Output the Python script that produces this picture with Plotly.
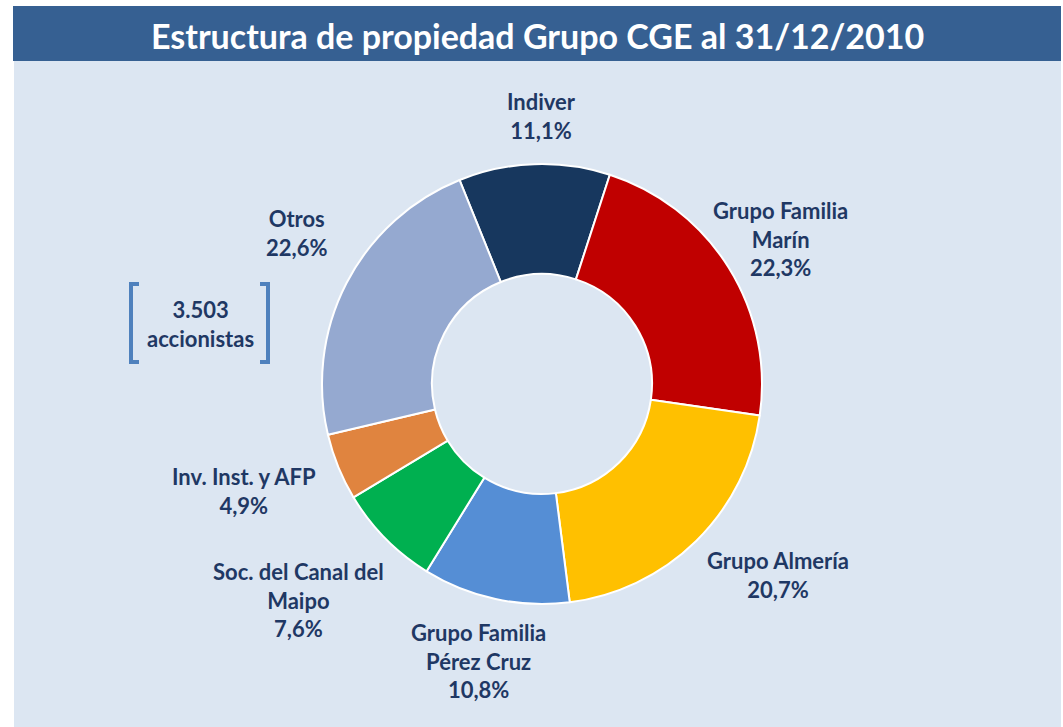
import math
import plotly.graph_objects as go

# ---- data ----
categories = ["Indiver", "Grupo Familia<br>Marín", "Grupo Almería",
              "Grupo Familia<br>Pérez Cruz", "Soc. del Canal del<br>Maipo",
              "Inv. Inst. y AFP", "Otros"]
shares = [11.1, 22.3, 20.7, 10.8, 7.6, 4.9, 22.6]
colors = ["#17375E", "#C00000", "#FFC000", "#558ED5", "#00B050", "#E0843F", "#95A9D0"]
title_text = "Estructura de propiedad Grupo CGE al 31/12/2010"
note_text = "3.503<br>accionistas"

# ---- layout helpers ----
W, H = 1063, 727
ROT = -22
CX, CY, R = 542, 384, 220
label_radius = [1.22, 1.27, 1.38, 1.29, 1.48, 1.44, 1.31]
label_angle_shift = [2, 0.7, -6.6, 0.7, 3.1, 2.4, 4.3]
TXT = "#1F3864"
FONT = "Lato"
LBL_SIZE = 22

def px(x):
    return x / W

def py(y):
    return 1 - y / H

fig = go.Figure()
fig.add_trace(go.Pie(
    labels=[c.replace("<br>", " ") for c in categories],
    values=shares,
    sort=False,
    direction="clockwise",
    rotation=ROT,
    hole=0.5,
    marker=dict(colors=colors, line=dict(color="white", width=2)),
    textinfo="none",
    hoverinfo="label+percent",
    showlegend=False,
    domain=dict(x=[px(CX - R), px(CX + R)], y=[py(CY + R), py(CY - R)]),
))

shapes = [
    dict(type="rect", xref="paper", yref="paper", x0=px(14), x1=px(1061), y0=py(727), y1=py(61),
         fillcolor="#DCE6F2", line=dict(width=0), layer="below"),
    dict(type="rect", xref="paper", yref="paper", x0=px(13), x1=px(1061), y0=py(61), y1=py(6),
         fillcolor="#366092", line=dict(width=0), layer="below"),
]
# bracket
bc = "#4F81BD"
for xv, xt in [(131, 139), (268, 260)]:
    shapes.append(dict(type="path", xref="paper", yref="paper",
                       path=f"M {px(xt)},{py(284)} L {px(xv)},{py(284)} L {px(xv)},{py(362)} L {px(xt)},{py(362)}",
                       line=dict(color=bc, width=4)))

annotations = [
    dict(text=f"<b>{title_text}</b>", x=px(537), y=py(35), xref="paper", yref="paper",
         showarrow=False, font=dict(family=FONT, size=34, color="white"),
         xanchor="center", yanchor="middle"),
    dict(text=f"<b>{note_text}</b>", x=px(200), y=py(324), xref="paper", yref="paper",
         showarrow=False, font=dict(family=FONT, size=LBL_SIZE, color=TXT),
         xanchor="center", yanchor="middle"),
]

cum = 0.0
total = sum(shares)
for i, (cat, v) in enumerate(zip(categories, shares)):
    mid = ROT + (cum + v / 2) / total * 360 + label_angle_shift[i]
    cum += v
    rr = R * label_radius[i]
    lx = CX + rr * math.sin(math.radians(mid))
    ly = CY - rr * math.cos(math.radians(mid))
    pct = f"{v:.1f}".replace(".", ",") + "%"
    annotations.append(dict(text=f"<b>{cat}<br>{pct}</b>", x=px(lx), y=py(ly),
                            xref="paper", yref="paper", showarrow=False,
                            font=dict(family=FONT, size=LBL_SIZE, color=TXT),
                            xanchor="center", yanchor="middle", align="center"))

fig.update_layout(width=W, height=H, margin=dict(l=0, r=0, t=0, b=0),
                  paper_bgcolor="white", plot_bgcolor="white",
                  shapes=shapes, annotations=annotations)
fig.write_html("out.html", config={"displayModeBar": False},
               post_script="document.body.style.margin='0';document.body.style.overflow='hidden';")
